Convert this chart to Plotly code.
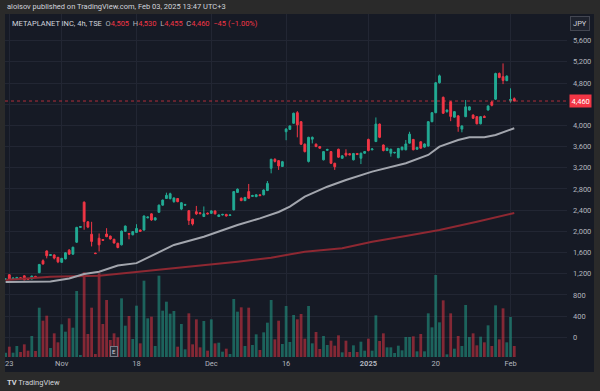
import plotly.graph_objects as go

# ---------------- data ----------------
bar_index = list(range(137))  # 4h bars, Oct 22 (pm) .. Feb 3 (pm)

opens = [1090,1180,1100,1105,1125,1160,1110,1100,1150,1220,1445,1630,1545,1555,1510,1415,1480,1645,1570,1795,
         2075,2550,2180,1945,1590,1870,1845,1950,1910,1850,1775,1745,2000,1960,1935,1980,2025,2025,2255,2330,
         2215,2360,2495,2620,2620,2560,2620,2420,2495,2390,2230,2370,2350,2280,2345,2340,2385,2280,2310,2320,
         2300,2405,2735,2625,2580,2750,2660,2655,2690,2690,2770,3190,3360,3335,3225,3880,3925,4040,4240,4070,
         3645,3320,3740,3645,3600,3350,3530,3505,3285,3550,3380,3475,3465,3350,3470,3380,3475,3735,3540,3695,
         4025,3630,3525,3475,3480,3390,3540,3540,3665,3735,3550,3690,3590,3610,4070,4240,4805,4530,4260,4445,
         4155,4180,3930,4165,4290,4195,4165,4030,4170,4290,4440,4495,4980,4920,4845,4470,4505]
highs = [1110,1195,1125,1140,1135,1170,1115,1165,1160,1385,1470,1640,1570,1565,1515,1500,1605,1665,1710,2085,
         2095,2565,2190,2180,1595,1960,1850,2060,1920,1860,1785,2015,2110,1970,2000,2135,2035,2300,2280,2340,
         2265,2505,2600,2730,2730,2640,2630,2550,2520,2400,2240,2480,2360,2470,2355,2400,2395,2320,2330,2330,
         2320,2760,2810,2640,2650,2895,2690,2700,2700,2790,2950,3370,3380,3345,3330,3950,4000,4240,4270,4080,
         3660,3785,3790,3660,3610,3515,3560,3515,3295,3560,3440,3550,3475,3480,3480,3485,3515,3750,3570,4150,
         4035,3640,3580,3560,3500,3575,3600,3725,3880,3745,3595,3700,3660,4080,4250,4820,4960,4545,4300,4460,
         4270,4190,4000,4480,4360,4210,4175,4175,4190,4380,4460,4995,5000,5170,4945,4700,4530]
lows = [1080,1090,1092,1100,1100,1080,1085,1095,1125,1210,1370,1490,1535,1470,1400,1405,1470,1555,1560,1780,
        2070,2030,2060,1715,1575,1620,1825,1890,1845,1770,1680,1735,1990,1850,1925,1970,1990,2015,2245,2200,
        2205,2350,2485,2610,2600,2540,2550,2400,2480,2120,2110,2310,2320,2270,2320,2330,2320,2270,2300,2280,
        2290,2395,2725,2570,2570,2615,2650,2645,2665,2680,2760,3095,3300,3160,3215,3720,3915,4030,3775,3630,
        3490,3300,3660,3590,3560,3340,3520,3270,3160,3390,3370,3410,3435,3340,3440,3270,3465,3510,3530,3685,
        3760,3510,3515,3410,3470,3380,3530,3530,3655,3530,3540,3560,3580,3600,4060,4230,4790,4215,4240,4080,
        4150,3880,3870,4155,4280,4120,4020,4020,4140,4280,4360,4480,4890,4780,4835,4430,4455]
closes = [1100,1100,1118,1130,1110,1085,1095,1155,1135,1375,1385,1540,1560,1495,1425,1490,1595,1570,1700,2075,
          2090,2185,2080,1810,1580,1745,1830,1900,1855,1780,1695,2005,2100,1945,1995,2055,2000,2290,2270,2215,
          2255,2495,2590,2680,2710,2630,2560,2540,2505,2205,2140,2330,2335,2330,2330,2385,2330,2310,2320,2290,
          2310,2750,2795,2580,2640,2625,2675,2690,2675,2780,2905,3360,3320,3235,3315,3930,3990,4230,4010,3645,
          3505,3775,3775,3600,3570,3505,3545,3285,3220,3400,3425,3440,3445,3470,3450,3475,3505,3525,3555,4025,
          3775,3525,3570,3550,3490,3565,3590,3650,3835,3540,3585,3570,3650,4070,4240,4805,4935,4230,4290,4170,
          4260,3980,3990,4350,4350,4135,4030,4165,4150,4365,4380,4980,4905,4850,4930,4490,4460]
volume_100k = [13,31,13,33,15,38,19,63,18,148,109,124,27,71,44,98,76,116,88,198,
               6,254,69,148,9,251,99,171,51,71,59,176,94,123,54,154,41,229,116,121,
               33,244,139,166,130,138,31,99,23,131,38,113,29,108,19,113,41,43,16,25,
               9,174,136,149,33,148,36,68,21,74,103,171,53,109,39,153,45,126,113,129,
               55,153,41,75,24,63,36,49,34,65,14,49,15,35,15,46,19,55,19,125,
               48,71,29,29,12,34,20,60,60,62,17,69,17,131,89,246,104,170,8,131,
               25,63,33,156,60,71,35,61,44,95,33,155,53,146,44,120,33]

ma_fast_idx = [0, 9, 12, 17, 21, 25, 30, 35, 40, 45, 53, 62, 68, 73, 76, 80, 86, 91, 98, 107, 113, 116, 121, 124, 128, 131, 136]
ma_fast = [1044, 1044, 1055, 1110, 1195, 1239, 1354, 1400, 1573, 1743, 1899, 2120, 2245, 2366, 2466, 2654, 2843,
           2970, 3127, 3285, 3442, 3599, 3725, 3776, 3776, 3819, 3946]
ma_slow_idx = [0, 12, 25, 45, 62, 71, 80, 90, 98, 107, 116, 126, 136]
ma_slow = [1082, 1144, 1163, 1303, 1428, 1503, 1616, 1680, 1805, 1913, 2026, 2180, 2347]

date_tick_idx = [1, 15, 35, 55, 75, 97, 115, 135]
date_tick_text = ["23", "Nov", "18", "Dec", "16", "<b>2025</b>", "20", "Feb"]
price_ticks = [0, 400, 800, 1200, 1600, 2000, 2400, 2800, 3200, 3600, 4000, 4400, 4800, 5200, 5600]
price_tick_text = ["0", "400", "800", "1,200", "1,600", "2,000", "2,400", "2,800", "3,200", "3,600",
                   "4,000", "", "4,800", "5,200", "5,600"]  # 4,400 sits under the last-price tag
last_price = 4460

# ---------------- style ----------------
UP = "#22ab94"
DOWN = "#f23645"
PANEL = "#161a25"
OUTER = "#2a2a2a"
GRID = "#222633"
TXT = "#b2b5be"
FONT = "Roboto"

vol_colors = ["rgba(34,171,148,0.5)" if c >= o else "rgba(242,54,69,0.5)" for o, c in zip(opens, closes)]

fig = go.Figure()
fig.add_trace(go.Bar(x=bar_index, y=volume_100k, marker=dict(color=vol_colors, line=dict(width=0)),
                     xaxis="x", yaxis="y", showlegend=False, hoverinfo="skip"))
fig.add_trace(go.Candlestick(x=bar_index, open=opens, high=highs, low=lows, close=closes,
                             increasing=dict(line=dict(color=UP, width=1), fillcolor=UP),
                             decreasing=dict(line=dict(color=DOWN, width=1), fillcolor=DOWN),
                             whiskerwidth=0, xaxis="x", yaxis="y2", showlegend=False))
fig.add_trace(go.Scatter(x=ma_slow_idx, y=ma_slow, mode="lines", line=dict(color="#8e2832", width=2),
                         xaxis="x", yaxis="y2", showlegend=False, hoverinfo="skip"))
fig.add_trace(go.Scatter(x=ma_fast_idx, y=ma_fast, mode="lines", line=dict(color="#a3a6ae", width=2),
                         xaxis="x", yaxis="y2", showlegend=False, hoverinfo="skip"))

W, H = 600, 391
L, R, T, B = 5, 33, 14, 34
pw, ph = W - L - R, H - T - B


def px(xp):
    return (xp - L) / pw


def py(yp):
    return (H - B - yp) / ph


fig.update_layout(
    width=W, height=H,
    margin=dict(l=L, r=R, t=T, b=B, pad=0),
    paper_bgcolor=OUTER, plot_bgcolor="rgba(0,0,0,0)",
    font=dict(family=FONT, size=7.5, color=TXT),
    bargap=0.25, boxgap=0.3,
    xaxis=dict(range=[-0.16, 150.1], tickvals=date_tick_idx, ticktext=date_tick_text,
               showgrid=True, gridcolor=GRID, gridwidth=1, zeroline=False, showline=False, ticks="",
               tickfont=dict(size=7.5, color=TXT), rangeslider=dict(visible=False), fixedrange=True),
    yaxis=dict(range=[0, 1029], visible=False, showgrid=False, fixedrange=True),
    yaxis2=dict(overlaying="y", side="right", anchor="x", range=[-372, 6103],
                tickvals=price_ticks, ticktext=price_tick_text, showgrid=True, gridcolor=GRID, gridwidth=1,
                zeroline=False, showline=False, ticks="", ticklabelstandoff=5,
                tickfont=dict(size=7.5, color=TXT), fixedrange=True),
    shapes=[
        dict(type="rect", xref="paper", yref="paper", x0=px(5), x1=px(594), y0=py(372), y1=py(14),
             fillcolor=PANEL, line=dict(width=0), layer="below"),
        dict(type="line", xref="paper", yref="y2", x0=0, x1=1, y0=last_price, y1=last_price,
             line=dict(color=DOWN, width=1, dash="dot"), opacity=0.7, layer="above"),
    ],
    annotations=[
        dict(xref="paper", yref="paper", x=px(5), y=py(6.7), xanchor="left", yanchor="middle", showarrow=False,
             text="aloisov published on TradingView.com, Feb 03, 2025 13:47 UTC+3",
             font=dict(size=7.5, color="#d1d4dc")),
        dict(xref="paper", yref="paper", x=px(10), y=py(23.3), xanchor="left", yanchor="middle", showarrow=False,
             text=("<span style='color:#d1d4dc'>METAPLANET INC, 4h, TSE</span>  "
                   "O<span style='color:#f23645'>4,505</span>  H<span style='color:#f23645'>4,530</span>  "
                   "L<span style='color:#f23645'>4,455</span>  C<span style='color:#f23645'>4,460</span>  "
                   "<span style='color:#f23645'>\u221245 (\u22121.00%)</span>"),
             font=dict(size=7.5, color=TXT)),
        dict(xref="paper", yref="paper", x=px(580.5), y=py(23.5), xanchor="center", yanchor="middle",
             showarrow=False, text="JPY", font=dict(size=7.5, color="#d1d4dc"),
             bgcolor="#1e222d", bordercolor="#434651", borderwidth=1, borderpad=2),
        dict(xref="paper", yref="y2", x=px(580.5), y=last_price, xanchor="center", yanchor="middle",
             showarrow=False, text="4,460", font=dict(size=7.5, color="#ffffff"),
             bgcolor=DOWN, borderpad=1.5),
        dict(xref="x", yref="paper", x=29, y=py(351), xanchor="center", yanchor="middle", showarrow=False,
             text="E", font=dict(size=6, color="#d1d4dc"), bgcolor="#2a2e39", bordercolor="#787b86",
             borderwidth=1, borderpad=1),
        dict(xref="paper", yref="paper", x=px(5), y=py(382), xanchor="left", yanchor="middle", showarrow=False,
             text="<b>TV</b> TradingView", font=dict(size=7.5, color="#d1d4dc")),
    ],
)

fig.write_html("out.html", config={"displayModeBar": False, "staticPlot": True},
               post_script="document.body.style.margin='0';document.body.style.overflow='hidden';")
